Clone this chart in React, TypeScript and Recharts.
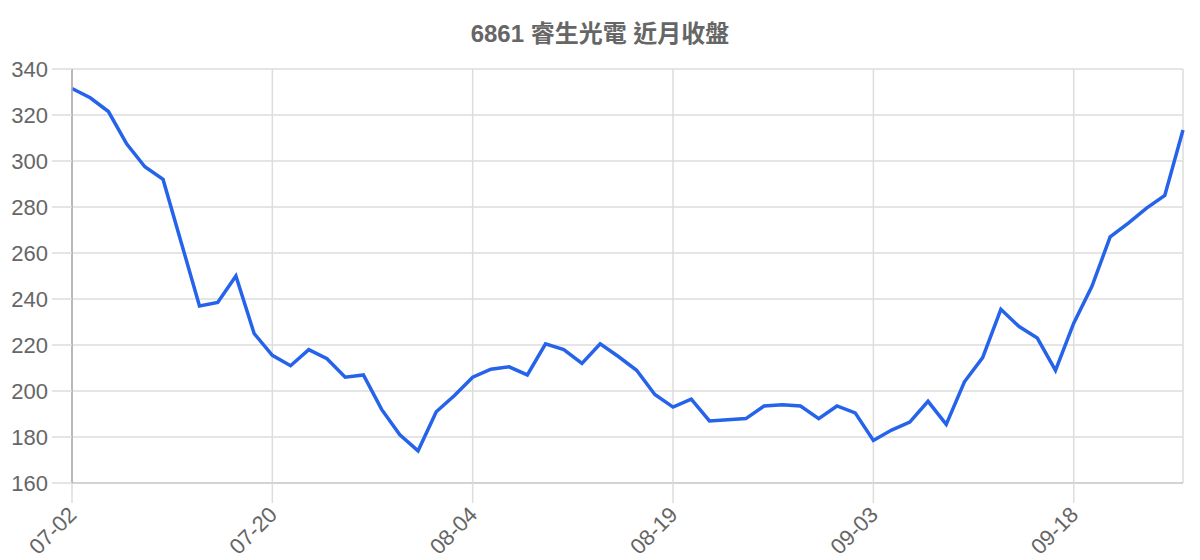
import React from "react";
import {
  LineChart,
  Line,
  XAxis,
  YAxis,
  CartesianGrid,
} from "recharts";

const dates = [
  "07-02", "07-03", "07-06", "07-07", "07-08", "07-09", "07-10", "07-13", "07-14", "07-15", "07-16",
  "07-20", "07-21", "07-22", "07-23", "07-24", "07-27", "07-28", "07-29", "07-30", "07-31", "08-03",
  "08-04", "08-05", "08-06", "08-07", "08-10", "08-11", "08-12", "08-13", "08-14", "08-17", "08-18",
  "08-19", "08-20", "08-21", "08-24", "08-25", "08-26", "08-27", "08-28", "08-31", "09-01", "09-02",
  "09-03", "09-04", "09-07", "09-08", "09-09", "09-10", "09-11", "09-14", "09-15", "09-16", "09-17",
  "09-18", "09-21", "09-22", "09-23", "09-24", "09-25", "09-28",
];

const closes = [
  331.5, 327.5, 321.5, 307.5, 297.5, 292, 264.5, 237, 238.5, 250, 225,
  215.5, 211, 218, 214, 206, 207, 192, 181, 174, 191, 198,
  206, 209.5, 210.5, 207, 220.5, 218, 212, 220.5, 215, 209,
  198.5, 193, 196.5, 187, 187.5, 188, 193.5, 194, 193.5, 188, 193.5, 190.5,
  178.5, 183, 186.5, 195.5, 185.5, 204, 214.5, 235.5, 228, 223, 209,
  229.5, 245.5, 267, 273, 279.5, 285, 313.5,
];

const yTicks = [160, 180, 200, 220, 240, 260, 280, 300, 320, 340];

const data = dates.map((d, i) => ({ date: d, close: closes[i] }));

const FONT = '"Liberation Sans", Arial, "Noto Sans CJK TC", sans-serif';

const XTick = ({ x, y, payload }: any) => (
  <text
    x={x + 6}
    y={y + 11}
    transform={`rotate(-45, ${x + 6}, ${y + 11})`}
    textAnchor="end"
    fill="#666"
    fontSize={22}
    fontFamily={FONT}
  >
    {payload.value}
  </text>
);

export default function App() {
  return (
    <div
      style={{
        position: "absolute",
        left: 0,
        top: 0,
        width: 1200,
        height: 560,
        background: "#fff",
        fontFamily: FONT,
      }}
    >
      <div
        style={{
          position: "absolute",
          left: 0,
          top: 20,
          width: 1200,
          textAlign: "center",
          fontSize: 24,
          lineHeight: "28px",
          fontWeight: "bold",
          color: "#666",
        }}
      >
        6861 睿生光電 近月收盤
      </div>
      <LineChart
        width={1200}
        height={560}
        data={data}
        margin={{ top: 69, right: 17, left: 0, bottom: 0 }}
      >
        <CartesianGrid stroke="#ddd" strokeWidth={1.5} />
        <XAxis
          dataKey="date"
          interval={10}
          height={77}
          tickSize={20}
          tickLine={{ stroke: "#ddd", strokeWidth: 1.5 }}
          axisLine={{ stroke: "#ccc", strokeWidth: 1.5 }}
          tick={<XTick />}
        />
        <YAxis
          domain={[160, 340]}
          ticks={yTicks}
          width={72}
          tickSize={20}
          tickMargin={4}
          tickLine={{ stroke: "#ddd", strokeWidth: 1.5 }}
          axisLine={{ stroke: "#aaa", strokeWidth: 1.5 }}
          tick={{ fill: "#666", fontSize: 22, fontFamily: FONT }}
        />
        <Line
          type="linear"
          dataKey="close"
          stroke="#2563eb"
          strokeWidth={3.5}
          dot={false}
          isAnimationActive={false}
        />
      </LineChart>
    </div>
  );
}
